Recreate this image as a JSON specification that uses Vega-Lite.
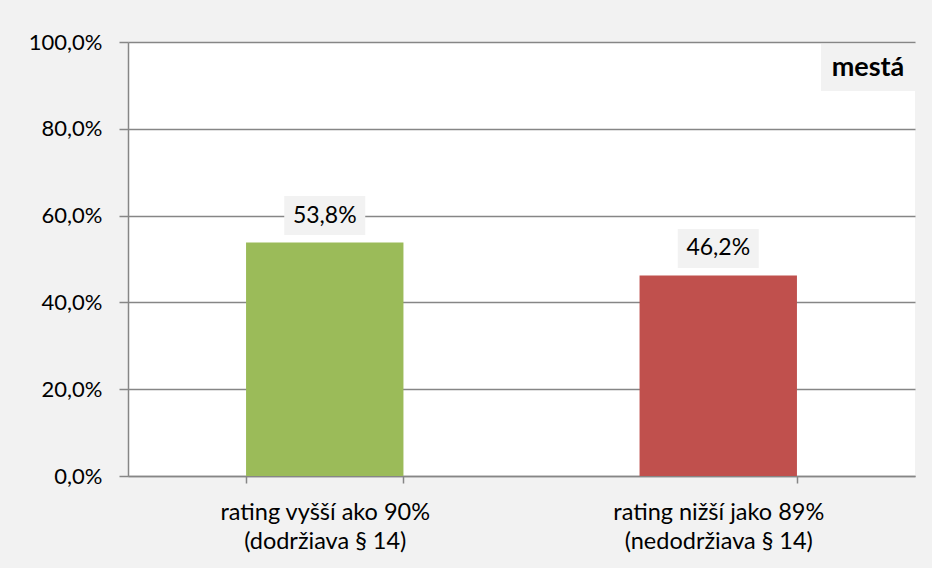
{
  "$schema": "https://vega.github.io/schema/vega-lite/v6.json",
  "width": 787,
  "height": 434,
  "autosize": {"type": "none"},
  "padding": {"left": 128, "top": 42, "right": 17, "bottom": 92},
  "background": "#f2f2f2",
  "datasets": {
    "bars": [
      {"kategoria": "rating vyšší ako 90% (dodržiava § 14)", "podiel": 0.538},
      {"kategoria": "rating nižší jako 89% (nedodržiava § 14)", "podiel": 0.462}
    ],
    "oznacenie": [{"nazov": "mestá"}]
  },
  "layer": [
    {
      "data": {"name": "bars"},
      "mark": {"type": "bar"},
      "encoding": {
        "x": {
          "field": "kategoria",
          "type": "nominal",
          "sort": null,
          "title": null,
          "scale": {"paddingInner": 0.6, "paddingOuter": 0.3},
          "axis": {
            "labelAngle": 0,
            "labelLimit": 0,
            "labelFontSize": 23.5,
            "tickBand": "extent",
            "tickSize": 7,
            "labelPadding": 17,
            "labelLineHeight": 29,
            "labelExpr": "[slice(datum.label, 0, indexof(datum.label, ' (')), slice(datum.label, indexof(datum.label, ' (') + 1)]"
          }
        },
        "y": {
          "field": "podiel",
          "type": "quantitative",
          "title": null,
          "scale": {"domain": [0, 1], "nice": false},
          "axis": {
            "values": [0, 0.2, 0.4, 0.6, 0.8, 1],
            "format": ".1%",
            "tickSize": 9,
            "labelPadding": 17,
            "grid": true
          }
        },
        "color": {
          "field": "kategoria",
          "type": "nominal",
          "sort": null,
          "legend": null,
          "scale": {"range": ["#9bbb59", "#c0504d"]}
        }
      }
    },
    {
      "data": {"name": "bars"},
      "mark": {
        "type": "point",
        "shape": "M-1,-0.4815H1V0.4815H-1Z",
        "size": 6561,
        "filled": true,
        "fill": "#f2f2f2",
        "opacity": 1,
        "strokeWidth": 0,
        "yOffset": -27
      },
      "encoding": {
        "x": {"field": "kategoria", "type": "nominal", "sort": null},
        "y": {"field": "podiel", "type": "quantitative"}
      }
    },
    {
      "data": {"name": "bars"},
      "mark": {
        "type": "text",
        "font": "Lato",
        "fontSize": 23,
        "color": "#000000",
        "baseline": "middle",
        "yOffset": -27
      },
      "encoding": {
        "x": {"field": "kategoria", "type": "nominal", "sort": null},
        "y": {"field": "podiel", "type": "quantitative"},
        "text": {"field": "podiel", "type": "quantitative", "format": ".1%"}
      }
    },
    {
      "data": {"name": "oznacenie"},
      "mark": {
        "type": "point",
        "shape": "M-1,-0.5H1V0.5H-1Z",
        "size": 8836,
        "filled": true,
        "fill": "#f2f2f2",
        "opacity": 1,
        "strokeWidth": 0,
        "xOffset": -47,
        "yOffset": 25.5
      },
      "encoding": {
        "x": {"value": "width"},
        "y": {"value": 0}
      }
    },
    {
      "data": {"name": "oznacenie"},
      "mark": {
        "type": "text",
        "font": "Lato",
        "fontSize": 27,
        "fontWeight": "bold",
        "color": "#000000",
        "baseline": "middle",
        "align": "center",
        "xOffset": -47,
        "yOffset": 25.5
      },
      "encoding": {
        "x": {"value": "width"},
        "y": {"value": 0},
        "text": {"field": "nazov", "type": "nominal"}
      }
    }
  ],
  "config": {
    "locale": {
      "number": {"decimal": ",", "thousands": " ", "grouping": [3], "currency": ["", " €"]}
    },
    "view": {"fill": "#ffffff", "stroke": null},
    "axis": {
      "labelFont": "Lato",
      "labelFontSize": 22,
      "labelColor": "#000000",
      "domainColor": "#868686",
      "domainWidth": 1.5,
      "tickColor": "#868686",
      "tickWidth": 1.5,
      "gridColor": "#868686",
      "gridWidth": 1.5
    }
  }
}
